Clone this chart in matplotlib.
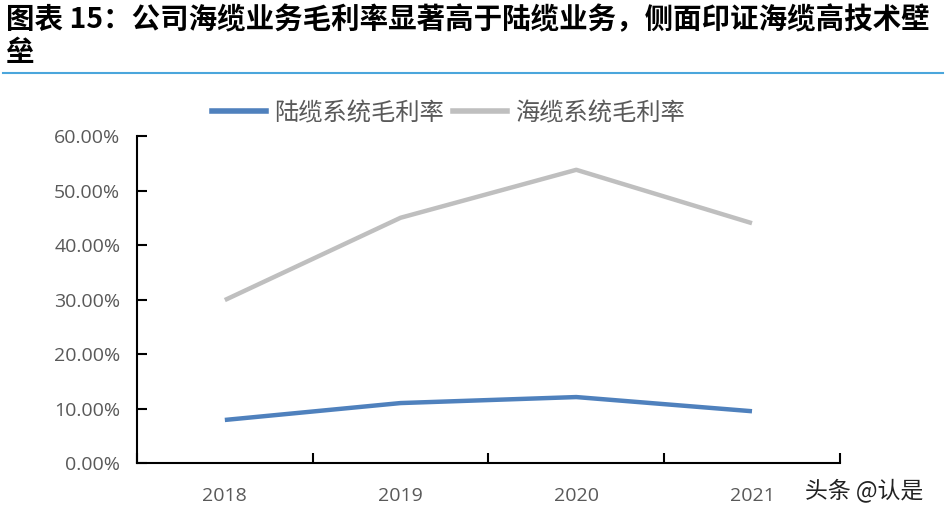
import matplotlib.pyplot as plt
from matplotlib.lines import Line2D

plt.rcParams["font.family"] = ["Noto Sans CJK SC", "DejaVu Sans"]

years = ["2018", "2019", "2020", "2021"]
land_margin = [7.9, 11.0, 12.1, 9.5]   # 陆缆系统毛利率 (%)
sea_margin = [29.9, 45.0, 53.8, 44.0]  # 海缆系统毛利率 (%)
y_ticks = [0, 10, 20, 30, 40, 50, 60]

title = "图表 15：公司海缆业务毛利率显著高于陆缆业务，侧面印证海缆高技术壁\n垒"

fig = plt.figure(figsize=(9.46, 5.16), dpi=100)
ax = fig.add_axes([0.1448, 0.1027, 0.743, 0.6337])

x = list(range(len(years)))
ax.plot(x, land_margin, color="#4F81BD", lw=3.2, solid_capstyle="butt")
ax.plot(x, sea_margin, color="#BFBFBF", lw=3.2, solid_capstyle="butt")

ax.set_xlim(-0.5, len(years) - 0.5)
ax.set_ylim(0, 60)
ax.set_yticks(y_ticks)
ax.set_yticklabels([f"{v:.2f}%" for v in y_ticks])
ax.set_xticks([i - 0.5 for i in range(len(years) + 1)])
ax.set_xticklabels([])
ax.set_xticks(x, minor=True)
ax.set_xticklabels(years, minor=True)

for s in ["top", "right"]:
    ax.spines[s].set_visible(False)
for s in ["left", "bottom"]:
    ax.spines[s].set_linewidth(1.5)
    ax.spines[s].set_color("black")

ax.tick_params(axis="y", direction="in", length=7, width=1.5, labelsize=14,
               labelcolor="#595959", pad=12)
ax.tick_params(axis="x", which="major", direction="in", length=7, width=1.5)
ax.tick_params(axis="x", which="minor", length=0, labelsize=14,
               labelcolor="#595959", pad=17)
for lab in ax.get_yticklabels() + ax.get_xticklabels(minor=True):
    lab.set_family(["Open Sans", "DejaVu Sans"])

handles = [Line2D([], [], color="#4F81BD", lw=4),
           Line2D([], [], color="#BFBFBF", lw=4)]
fig.legend(handles, ["陆缆系统毛利率", "海缆系统毛利率"], loc="center",
           bbox_to_anchor=(0.474, 0.781), ncol=2, frameon=False,
           fontsize=17.5, labelcolor="#595959", handlelength=2.2,
           handletextpad=0.33, columnspacing=0.4)

fig.text(0.006, 0.99, title, ha="left", va="top", fontsize=20.5,
         fontweight="bold", style="italic", linespacing=1.25)
fig.add_artist(Line2D([0.003, 0.997], [0.859, 0.859], color="#4BA6DC", lw=1.5))

fig.text(0.851, 0.05, "头条 @认是", fontsize=16.5, color="#222222",
         ha="left", va="center")

fig.savefig("out.png", dpi=100)
